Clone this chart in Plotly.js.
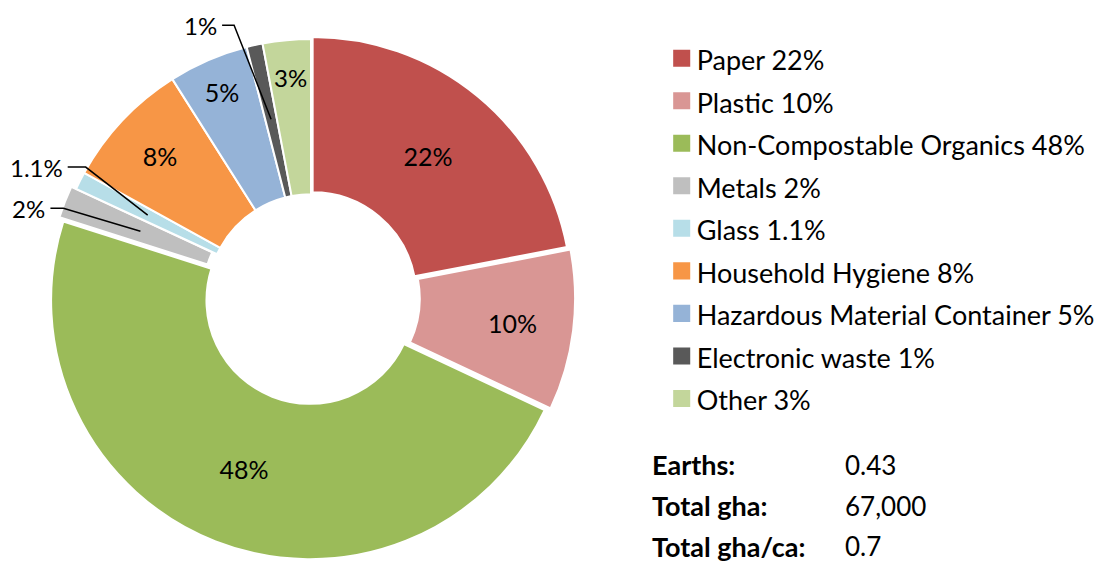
<!DOCTYPE html>
<html>
<head>
<meta charset="utf-8">
<script src="https://cdn.plot.ly/plotly-3.0.1.min.js"></script>
<style>
  html, body { margin: 0; padding: 0; background: #ffffff; }
  #chart { width: 1100px; height: 562px; }
  /* larger legend swatches without the white slice outline */
  #chart .legend .legendpie { transform: translate(25px, 0px) scale(1.42); stroke-width: 0 !important; }
</style>
</head>
<body>
<div id="chart"></div>
<script>
// Waste composition shares (%)
const categories = ['Paper', 'Plastic', 'Non-Compostable Organics', 'Metals', 'Glass',
                    'Household Hygiene', 'Hazardous Material Container', 'Electronic waste', 'Other'];
const shares = [22, 10, 48, 2, 1.1, 8, 5, 1, 3];
const sliceColors = ['#C0504D', '#D99694', '#9BBB59', '#BFBFBF', '#B7DEE8',
                     '#F79646', '#95B3D7', '#595959', '#C3D69B'];

// Summary figures shown under the legend
const statLabels = ['Earths:', 'Total gha:', 'Total gha/ca:'];
const statValues = ['0.43', '67,000', '0.7'];

// Slices too thin for an inside label get a leader line instead
const calloutCategories = ['Metals', 'Glass', 'Electronic waste'];
// Narrow slice whose label sits near the outer rim
const rimCategories = ['Other'];

const W = 1100, H = 562;
const FONT = 'Lato, "Open Sans", sans-serif';
const HOLE = 0.4;
const pulls = [0.01, 0.02, 0.01, 0.02, 0, 0, 0, 0, 0];
const maxPull = Math.max(...pulls);
const domain = { x: [0.04255, 0.5229], y: [0, 0.94] };

// Pie geometry in pixels (mirrors how plotly sizes a pie within its domain)
const domW = W * (domain.x[1] - domain.x[0]);
const domH = H * (domain.y[1] - domain.y[0]);
const cx = W * (domain.x[0] + domain.x[1]) / 2;
const cy = H - H * (domain.y[0] + domain.y[1]) / 2;
const R = Math.min(domW, domH) / (2 * (1 + maxPull));

const total = shares.reduce((a, b) => a + b, 0);
function midAngle(i) {
  const before = shares.slice(0, i).reduce((a, b) => a + b, 0);
  return (before + shares[i] / 2) / total * 2 * Math.PI; // clockwise from 12 o'clock
}
function polar(i, r) {
  const a = midAngle(i);
  return [cx + Math.sin(a) * r, cy - Math.cos(a) * r];
}
const px2x = p => p / W;
const px2y = p => 1 - p / H;

const textPositions = categories.map(c =>
  (calloutCategories.includes(c) || rimCategories.includes(c)) ? 'none' : 'inside');
const legendLabels = categories.map((c, i) =>
  '<span style="font-size:27px">' + c + ' ' + shares[i] + '%</span>');

const trace = {
  type: 'pie',
  labels: legendLabels,
  values: shares,
  sort: false,
  direction: 'clockwise',
  rotation: 0,
  hole: HOLE,
  pull: pulls,
  domain: domain,
  marker: { colors: sliceColors, line: { color: '#ffffff', width: 2 } },
  texttemplate: '%{value}%',
  textposition: textPositions,
  insidetextorientation: 'horizontal',
  insidetextfont: { family: FONT, size: 25, color: '#000000' },
  hoverinfo: 'label+percent',
  showlegend: true
};

// Leader lines: anchor inside the slice, elbow offset, short horizontal run
const calloutStyle = {
  'Metals':           { elbow: [-77, -23], run: 13 },
  'Glass':            { elbow: [-62, -48], run: 18 },
  'Electronic waste': { elbow: [-37, -94], run: 12 }
};
const shapes = [];
const annotations = [];
calloutCategories.forEach(c => {
  const i = categories.indexOf(c);
  const [ax, ay] = polar(i, R * (1 + HOLE) / 2 * 1.01);
  const st = calloutStyle[c];
  const ex = ax + st.elbow[0], ey = ay + st.elbow[1];
  const hx = ex - st.run;
  shapes.push({
    type: 'path', xref: 'paper', yref: 'paper',
    path: `M ${px2x(ax)} ${px2y(ay)} L ${px2x(ex)} ${px2y(ey)} L ${px2x(hx)} ${px2y(ey)}`,
    line: { color: '#000000', width: 1.5 }
  });
  annotations.push({
    xref: 'paper', yref: 'paper', x: px2x(hx - 3), y: px2y(ey),
    xanchor: 'right', yanchor: 'middle', showarrow: false,
    text: shares[i] + '%', font: { family: FONT, size: 24, color: '#000000' }
  });
});

rimCategories.forEach(c => {
  const i = categories.indexOf(c);
  const [tx, ty] = polar(i, R * 0.855);
  annotations.push({
    xref: 'paper', yref: 'paper', x: px2x(tx), y: px2y(ty),
    xanchor: 'center', yanchor: 'middle', showarrow: false,
    text: shares[i] + '%', font: { family: FONT, size: 24, color: '#000000' }
  });
});

// Summary block
statLabels.forEach((lab, k) => {
  const yPix = 465 + k * 40.5;
  annotations.push({
    xref: 'paper', yref: 'paper', x: px2x(650), y: px2y(yPix),
    xanchor: 'left', yanchor: 'middle', showarrow: false,
    text: '<b>' + lab + '</b>', font: { family: FONT, size: 27, color: '#000000' }
  });
  annotations.push({
    xref: 'paper', yref: 'paper', x: px2x(843), y: px2y(yPix),
    xanchor: 'left', yanchor: 'middle', showarrow: false,
    text: statValues[k], font: { family: FONT, size: 26, color: '#000000' }
  });
});

const layout = {
  width: W, height: H,
  margin: { l: 0, r: 0, t: 0, b: 0 },
  paper_bgcolor: '#ffffff',
  plot_bgcolor: '#ffffff',
  font: { family: FONT, color: '#000000' },
  showlegend: true,
  legend: {
    x: 0.597, y: px2y(32), xanchor: 'left', yanchor: 'top',
    font: { family: FONT, size: 30.4, color: '#000000' },
    bgcolor: 'rgba(0,0,0,0)', traceorder: 'normal'
  },
  shapes: shapes,
  annotations: annotations
};

Plotly.newPlot('chart', [trace], layout, { displayModeBar: false, staticPlot: true });
</script>
</body>
</html>
